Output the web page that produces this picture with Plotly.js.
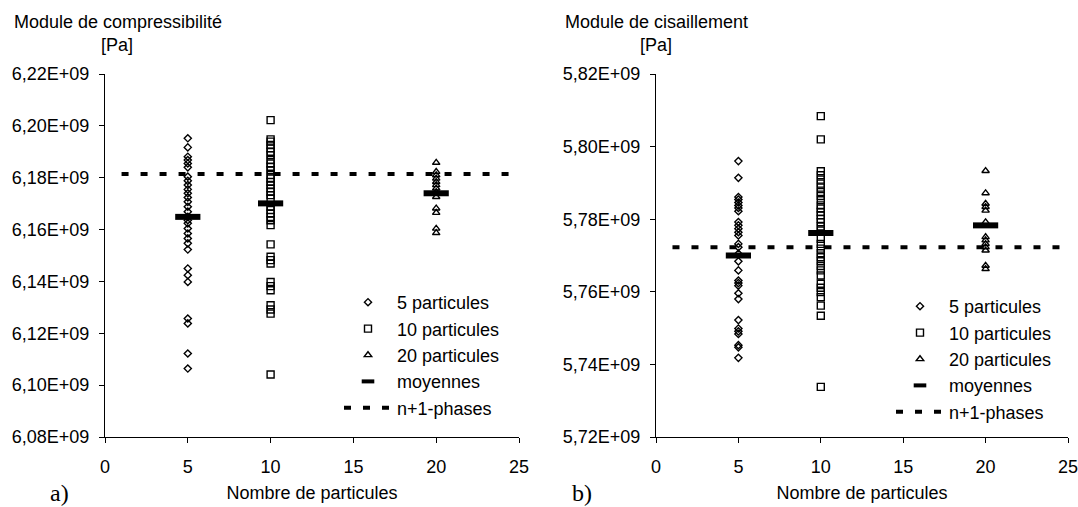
<!DOCTYPE html>
<html><head><meta charset="utf-8">
<script src="https://cdn.plot.ly/plotly-3.0.1.min.js"></script>
<style>html,body{margin:0;padding:0;background:#fff}#chart{width:1078px;height:507px}</style>
</head><body><div id="chart"></div>
<script>
// ---------- DATA ----------
const particleCounts = [5, 10, 20];
const seriesNames = ['5 particules', '10 particules', '20 particules', 'moyennes', 'n+1-phases'];

// Module de compressibilité [Pa]
const comp5 = [6.1952e9, 6.1917e9, 6.1881e9, 6.1868e9, 6.1855e9, 6.1840e9, 6.1804e9, 6.1788e9, 6.1772e9, 6.1755e9,
  6.1740e9, 6.1724e9, 6.1707e9, 6.1688e9, 6.1669e9, 6.1649e9, 6.1636e9, 6.1624e9, 6.1604e9, 6.1585e9, 6.1566e9,
  6.1547e9, 6.1523e9, 6.1450e9, 6.1424e9, 6.1398e9, 6.1257e9, 6.1238e9, 6.1122e9, 6.1064e9];
const comp10 = [6.2022e9, 6.1948e9, 6.1939e9, 6.1926e9, 6.1913e9, 6.1900e9, 6.1887e9, 6.1868e9, 6.1855e9, 6.1842e9,
  6.1829e9, 6.1810e9, 6.1797e9, 6.1784e9, 6.1772e9, 6.1759e9, 6.1746e9, 6.1733e9, 6.1720e9, 6.1688e9, 6.1675e9,
  6.1662e9, 6.1649e9, 6.1636e9, 6.1617e9, 6.1543e9, 6.1495e9, 6.1482e9, 6.1469e9, 6.1398e9, 6.1382e9, 6.1366e9,
  6.1308e9, 6.1292e9, 6.1276e9, 6.1041e9];
const comp20 = [6.1858e9, 6.1823e9, 6.1810e9, 6.1797e9, 6.1784e9, 6.1772e9, 6.1759e9, 6.1745e9, 6.1726e9,
  6.1682e9, 6.1665e9, 6.1604e9, 6.1587e9];
const compMeans = [6.1649e9, 6.1701e9, 6.1740e9];
const compPhaseX = [1, 25];
const compPhaseValue = 6.1814e9;

// Module de cisaillement [Pa]
const shear5 = [5.7960e9, 5.7914e9, 5.7861e9, 5.7854e9, 5.7846e9, 5.7838e9, 5.7831e9, 5.7822e9, 5.7792e9, 5.7783e9,
  5.7774e9, 5.7764e9, 5.7755e9, 5.7732e9, 5.7723e9, 5.7705e9, 5.7684e9, 5.7659e9, 5.7631e9, 5.7624e9, 5.7617e9,
  5.7596e9, 5.7580e9, 5.7522e9, 5.7499e9, 5.7491e9, 5.7484e9, 5.7453e9, 5.7447e9, 5.7418e9];
const shear10 = [5.8084e9, 5.8020e9, 5.7932e9, 5.7921e9, 5.7909e9, 5.7898e9, 5.7887e9, 5.7875e9, 5.7864e9, 5.7852e9,
  5.7838e9, 5.7829e9, 5.7820e9, 5.7811e9, 5.7801e9, 5.7792e9, 5.7780e9, 5.7769e9, 5.7746e9, 5.7732e9, 5.7719e9,
  5.7706e9, 5.7695e9, 5.7684e9, 5.7671e9, 5.7659e9, 5.7645e9, 5.7622e9, 5.7611e9, 5.7599e9, 5.7585e9, 5.7562e9,
  5.7534e9, 5.7338e9];
const shear20 = [5.7933e9, 5.7872e9, 5.7843e9, 5.7834e9, 5.7824e9, 5.7792e9, 5.7751e9, 5.7742e9, 5.7732e9,
  5.7723e9, 5.7714e9, 5.7672e9, 5.7663e9];
const shearMeans = [5.7700e9, 5.7762e9, 5.7783e9];
const shearPhaseX = [1, 25];
const shearPhaseValue = 5.7723e9;

// Axis ticks
const xTickVals = [0, 5, 10, 15, 20, 25];
const xTickText = ['0', '5', '10', '15', '20', '25'];
const compTickVals = [6.08e9, 6.10e9, 6.12e9, 6.14e9, 6.16e9, 6.18e9, 6.20e9, 6.22e9];
const compTickText = ['6,08E+09', '6,10E+09', '6,12E+09', '6,14E+09', '6,16E+09', '6,18E+09', '6,20E+09', '6,22E+09'];
const shearTickVals = [5.72e9, 5.74e9, 5.76e9, 5.78e9, 5.80e9, 5.82e9];
const shearTickText = ['5,72E+09', '5,74E+09', '5,76E+09', '5,78E+09', '5,80E+09', '5,82E+09'];

// Titles
const leftTitle = 'Module de compressibilité';
const rightTitle = 'Module de cisaillement';
const unitLabel = '[Pa]';
const xTitle = 'Nombre de particules';
const panelLabels = ['a)', 'b)'];

// ---------- STYLE ----------
const FONT = 'Arial, "Liberation Sans", sans-serif';
const BLACK = '#000000';
const symbols = ['diamond-open', 'square-open', 'triangle-up-open'];
const sizes = [5.5, 7, 6.5];

function buildTraces(groups, means, phaseX, phaseValue, xa, ya, legendId) {
  const traces = [];
  groups.forEach((vals, i) => {
    traces.push({
      type: 'scatter', mode: 'markers', name: seriesNames[i],
      x: vals.map(() => particleCounts[i]), y: vals,
      xaxis: xa, yaxis: ya, legend: legendId, hoverinfo: 'skip',
      marker: {symbol: symbols[i], size: sizes[i], color: BLACK, line: {color: BLACK, width: 1.4}}
    });
  });
  traces.push({
    type: 'scatter', mode: 'markers', name: seriesNames[3], showlegend: false,
    x: particleCounts, y: means, xaxis: xa, yaxis: ya, legend: legendId, hoverinfo: 'skip',
    marker: {symbol: 'line-ew', size: 18, color: BLACK, line: {color: BLACK, width: 6}}
  });
  traces.push({
    type: 'scatter', mode: 'markers', name: seriesNames[3], showlegend: true,
    x: [null], y: [null], xaxis: xa, yaxis: ya, legend: legendId, hoverinfo: 'skip',
    marker: {symbol: 'line-ew', size: 9, color: BLACK, line: {color: BLACK, width: 4}}
  });
  traces.push({
    type: 'scatter', mode: 'lines', name: seriesNames[4],
    x: phaseX, y: phaseX.map(() => phaseValue), xaxis: xa, yaxis: ya, legend: legendId, hoverinfo: 'skip',
    line: {color: BLACK, width: 4, dash: '7px,12px'}
  });
  return traces;
}

const data = [
  ...buildTraces([comp5, comp10, comp20], compMeans, compPhaseX, compPhaseValue, 'x', 'y', 'legend'),
  ...buildTraces([shear5, shear10, shear20], shearMeans, shearPhaseX, shearPhaseValue, 'x2', 'y2', 'legend2')
];

const W = 1078, H = 507;
const px = v => v / W;
const py = v => 1 - v / H;
const yDomain = [py(437), py(74)];

function xAxis(domain, anchor) {
  return {
    domain: domain, anchor: anchor, range: [0, 25], tickvals: xTickVals, ticktext: xTickText,
    showgrid: false, zeroline: false, showline: true, linecolor: BLACK, linewidth: 1,
    ticks: 'outside', ticklen: 5, tickcolor: BLACK, tickwidth: 1, ticklabelstandoff: 8,
    ticklabeloverflow: 'allow',
    tickfont: {family: FONT, size: 18, color: BLACK},
    title: {text: xTitle, font: {family: FONT, size: 18, color: BLACK}, standoff: 10}
  };
}
function yAxis(range, vals, text, anchor) {
  return {
    domain: yDomain, anchor: anchor, range: range, tickvals: vals, ticktext: text,
    showgrid: false, zeroline: false, showline: true, linecolor: BLACK, linewidth: 1,
    ticks: 'outside', ticklen: 5, tickcolor: BLACK, tickwidth: 1, ticklabelstandoff: 6,
    ticklabeloverflow: 'allow',
    tickfont: {family: FONT, size: 18, color: BLACK}
  };
}
function legend(xLeft, yTop) {
  return {
    x: px(xLeft), xanchor: 'left', y: py(yTop), yanchor: 'top',
    font: {family: FONT, size: 18, color: BLACK}, bgcolor: 'rgba(0,0,0,0)', borderwidth: 0,
    itemwidth: 48, traceorder: 'normal'
  };
}
function ann(text, x, y, xanchor, font) {
  return {text: text, x: px(x), y: py(y), xref: 'paper', yref: 'paper', xanchor: xanchor, yanchor: 'middle',
    showarrow: false, font: font || {family: FONT, size: 18, color: BLACK}};
}

const layout = {
  width: W, height: H, margin: {l: 0, r: 0, t: 0, b: 0},
  paper_bgcolor: '#ffffff', plot_bgcolor: '#ffffff', showlegend: true, hovermode: false,
  xaxis: xAxis([px(105), px(519)], 'y'),
  yaxis: yAxis([6.08e9, 6.22e9], compTickVals, compTickText, 'x'),
  xaxis2: xAxis([px(656), px(1068)], 'y2'),
  yaxis2: yAxis([5.72e9, 5.82e9], shearTickVals, shearTickText, 'x2'),
  legend: legend(339, 284),
  legend2: legend(891, 288),
  annotations: [
    ann(leftTitle, 12, 22, 'left'),
    ann(unitLabel, 117, 45, 'center'),
    ann(rightTitle, 563, 22, 'left'),
    ann(unitLabel, 656, 45, 'center'),
    ann(panelLabels[0], 59, 493, 'center', {family: '"Liberation Serif", "Times New Roman", serif', size: 24, color: BLACK}),
    ann(panelLabels[1], 582, 493, 'center', {family: '"Liberation Serif", "Times New Roman", serif', size: 24, color: BLACK})
  ]
};

Plotly.newPlot('chart', data, layout, {staticPlot: true, displayModeBar: false});
</script>
</body></html>
